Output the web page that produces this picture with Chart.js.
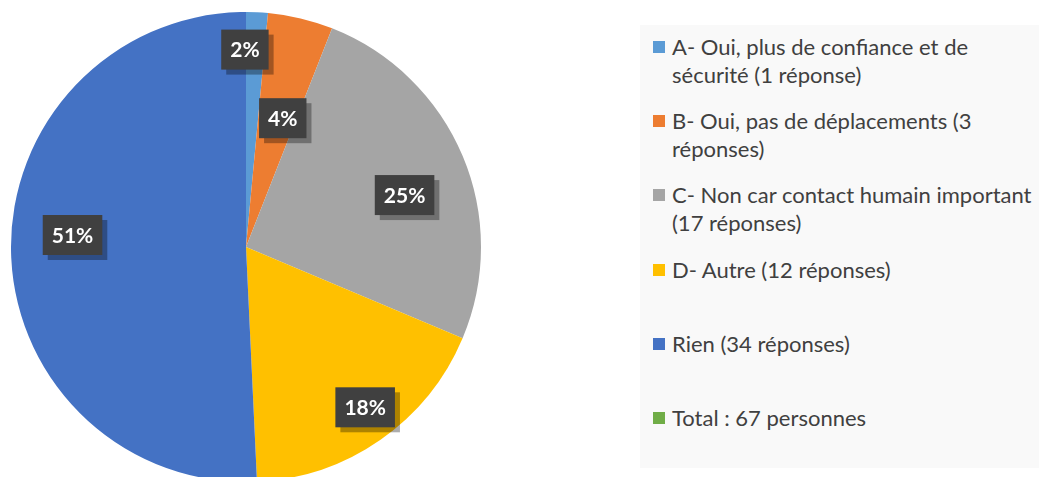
<!DOCTYPE html>
<html lang="fr">
<head>
<meta charset="utf-8">
<title>Réponses</title>
<script src="https://cdn.jsdelivr.net/npm/chart.js@4.4.1/dist/chart.umd.min.js"></script>
<style>
  html, body { margin: 0; padding: 0; background: #fff; overflow: hidden; }
  body { width: 1039px; height: 477px; position: relative; }
  #pieWrap { position: absolute; left: 0; top: 0; width: 492px; height: 482px; }
  #legend {
    position: absolute; left: 640px; top: 25px; width: 420px; height: 443px;
    background: #f9f9f9; box-sizing: border-box; padding-top: 8px;
    font-family: Lato, "Open Sans", sans-serif; font-size: 22px; color: #404040;
  }
  .item { position: relative; height: 74.2px; }
  .swatch { position: absolute; left: 13px; top: 8px; width: 12px; height: 12px; }
  .text { position: absolute; left: 32px; top: 0; line-height: 28px; white-space: nowrap; }
</style>
</head>
<body>
<div id="pieWrap"><canvas id="pieCanvas"></canvas></div>
<div id="legend"></div>
<script>
const categories = [
    ['A- Oui, plus de confiance et de', 'sécurité (1 réponse)'],
    ['B- Oui, pas de déplacements (3', 'réponses)'],
    ['C- Non car contact humain important', '(17 réponses)'],
    ['D- Autre (12 réponses)'],
    ['Rien (34 réponses)'],
    ['Total : 67 personnes']
];
const responses = [1, 3, 17, 12, 34, 0];
const colors = ['#5B9BD5', '#ED7D31', '#A5A5A5', '#FFC000', '#4472C4', '#70AD47'];

// percentages rounded so they add up to 100 (largest remainder)
function roundedPercents(values) {
    const total = values.reduce((a, b) => a + b, 0);
    const raw = values.map(v => v / total * 100);
    const out = raw.map(Math.floor);
    let left = 100 - out.reduce((a, b) => a + b, 0);
    const order = raw.map((r, i) => i).sort((a, b) => (raw[b] - out[b]) - (raw[a] - out[a]));
    for (let k = 0; k < left; k++) out[order[k]] += 1;
    return out;
}
const percents = roundedPercents(responses);

// dark boxed labels placed inside each slice
const boxLabels = {
    id: 'boxLabels',
    afterDatasetsDraw(chart, args, opts) {
        const ctx = chart.ctx;
        const arcs = chart.getDatasetMeta(0).data;
        ctx.save();
        ctx.font = 'bold 21px Lato, "Open Sans", sans-serif';
        ctx.textAlign = 'center';
        ctx.textBaseline = 'middle';
        arcs.forEach((arc, i) => {
            if (!responses[i]) return;
            const p = arc.getProps(['x', 'y', 'startAngle', 'endAngle', 'outerRadius'], true);
            const mid = (p.startAngle + p.endAngle) / 2 + opts.angleShift[i] * Math.PI / 180;
            const r = p.outerRadius * opts.radius[i];
            const x = p.x + Math.cos(mid) * r;
            const y = p.y + Math.sin(mid) * r;
            const text = percents[i] + '%';
            const w = ctx.measureText(text).width + 18;
            const h = 40;
            ctx.fillStyle = 'rgba(0,0,0,0.32)';
            ctx.fillRect(x - w / 2 + 5, y - h / 2 + 5, w, h);
            ctx.fillStyle = '#404040';
            ctx.fillRect(x - w / 2, y - h / 2, w, h);
            ctx.fillStyle = '#ffffff';
            ctx.fillText(text, x, y + 1);
        });
        ctx.restore();
    }
};

new Chart(document.getElementById('pieCanvas'), {
    type: 'pie',
    data: {
        labels: categories,
        datasets: [{
            data: responses,
            backgroundColor: colors,
            borderWidth: 0
        }]
    },
    options: {
        responsive: true,
        maintainAspectRatio: false,
        animation: false,
        layout: { padding: { left: 11, right: 11, top: 12, bottom: 0 } },
        plugins: {
            legend: { display: false },
            tooltip: { enabled: false },
            boxLabels: {
                radius: [0.84, 0.57, 0.71, 0.85, 0.74, 0],
                angleShift: [-3, 2.5, 4.7, -1.7, 5.3, 0]
            }
        }
    },
    plugins: [boxLabels]
});

// legend on the right, built from the same arrays
const legend = document.getElementById('legend');
categories.forEach((lines, i) => {
    const item = document.createElement('div');
    item.className = 'item';
    item.innerHTML = '<span class="swatch" style="background:' + colors[i] + '"></span>' +
        '<span class="text">' + lines.join('<br>') + '</span>';
    legend.appendChild(item);
});
</script>
</body>
</html>
